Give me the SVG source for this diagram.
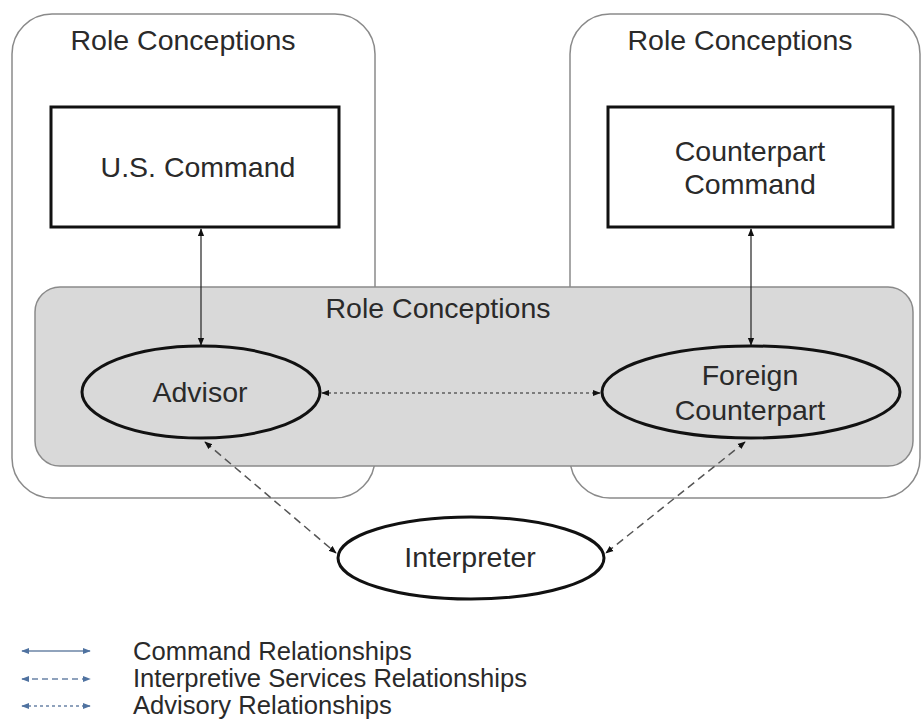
<svg xmlns="http://www.w3.org/2000/svg" width="923" height="723" viewBox="0 0 923 723">
<style>
text{font-family:"Liberation Sans",Arial,sans-serif;fill:#2a2a2a;}
.t{font-size:28.5px;text-anchor:middle;}
.lg{font-size:25.6px;}
.outer{fill:#fff;stroke:#8a8a8a;stroke-width:1.5;}
.box{fill:#fff;stroke:#111;stroke-width:3;}
.ell{fill:#d9d9d9;stroke:#111;stroke-width:3;}
.cmd{stroke:#222;stroke-width:1.2;fill:none;marker-start:url(#ah);marker-end:url(#ah);}
.adv{stroke:#222;stroke-width:1.2;fill:none;stroke-dasharray:3 3;marker-start:url(#ah);marker-end:url(#ah);}
.int{stroke:#555;stroke-width:1.5;fill:none;stroke-dasharray:8 5;marker-start:url(#ah);marker-end:url(#ah);}
.lcmd{stroke:#6b84a6;stroke-width:1.5;fill:none;marker-start:url(#bh);marker-end:url(#bh);}
</style>
<defs>
<marker id="ah" viewBox="0 0 10 10" refX="9" refY="5" markerWidth="8" markerHeight="8" markerUnits="userSpaceOnUse" orient="auto-start-reverse"><path d="M0,1 L10,5 L0,9 z" fill="#111"/></marker>
<marker id="bh" viewBox="0 0 10 10" refX="9" refY="5" markerWidth="8" markerHeight="8" markerUnits="userSpaceOnUse" orient="auto-start-reverse"><path d="M0,1 L10,5 L0,9 z" fill="#4f72a0"/></marker>
</defs>
<g id="left-role">
<rect class="outer" x="12" y="14" width="363" height="484" rx="40"/>
<text class="t" x="183" y="50">Role Conceptions</text>
</g>
<g id="right-role">
<rect class="outer" x="570" y="14" width="350" height="484" rx="40"/>
<text class="t" x="740" y="50">Role Conceptions</text>
</g>
<g id="middle-role">
<rect x="35" y="287" width="878" height="179" rx="25" fill="#d9d9d9" stroke="#8a8a8a" stroke-width="1.5"/>
<text class="t" x="438" y="318">Role Conceptions</text>
</g>
<g id="us-command">
<rect class="box" x="51" y="107" width="288" height="120"/>
<text class="t" x="198" y="177">U.S. Command</text>
</g>
<g id="counterpart-command">
<rect class="box" x="608" y="107" width="285" height="120"/>
<text class="t" x="750" y="161">Counterpart</text>
<text class="t" x="750" y="194">Command</text>
</g>
<g id="advisor">
<ellipse class="ell" cx="201" cy="392" rx="119" ry="46"/>
<text class="t" x="200" y="402">Advisor</text>
</g>
<g id="foreign-counterpart">
<ellipse class="ell" cx="751" cy="392" rx="149" ry="46"/>
<text class="t" x="750" y="385">Foreign</text>
<text class="t" x="750" y="420">Counterpart</text>
</g>
<g id="interpreter">
<ellipse cx="471" cy="558" rx="133" ry="41" fill="#fff" stroke="#111" stroke-width="3"/>
<text class="t" x="470" y="567">Interpreter</text>
</g>
<g id="connectors">
<line class="cmd" x1="201" y1="229" x2="201" y2="345"/>
<line class="cmd" x1="751" y1="229" x2="751" y2="345"/>
<line class="adv" x1="322" y1="393" x2="600" y2="393"/>
<line class="int" x1="205" y1="442" x2="336" y2="553"/>
<line class="int" x1="745" y1="442" x2="606" y2="553"/>
</g>
<g id="legend">
<line class="lcmd" x1="22" y1="651" x2="90" y2="651"/>
<line class="lcmd" x1="22" y1="679" x2="90" y2="679" stroke-dasharray="6 4"/>
<line class="lcmd" x1="22" y1="706" x2="90" y2="706" stroke-dasharray="3 3"/>
<text class="lg" x="133" y="660">Command Relationships</text>
<text class="lg" x="133" y="687">Interpretive Services Relationships</text>
<text class="lg" x="133" y="714">Advisory Relationships</text>
</g>
</svg>
